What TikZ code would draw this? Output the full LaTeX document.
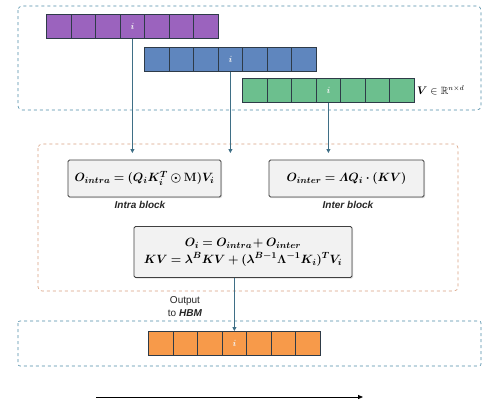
\documentclass[tikz,border=0pt]{standalone}
\usepackage{amsmath,amssymb,bm}
\usepackage[no-math]{fontspec}
\setmainfont{Liberation Sans}
\usetikzlibrary{arrows.meta,shadows}
\definecolor{cpurple}{HTML}{9B63BE}
\definecolor{cblue}{HTML}{5F86BE}
\definecolor{cgreen}{HTML}{6CBF8E}
\definecolor{corange}{HTML}{F79A4A}
\definecolor{cedge}{HTML}{2E3B48}
\definecolor{cteal}{HTML}{4E8CA8}
\definecolor{carrow}{HTML}{3F6F86}
\definecolor{cdashor}{HTML}{D9A080}
\definecolor{cboxfill}{HTML}{F2F2F2}
\definecolor{cboxedge}{HTML}{404040}
\begin{document}
\begin{tikzpicture}[x=1pt,y=-1pt,
  cell/.style={draw=cedge, line width=0.8pt, minimum width=24.57pt, minimum height=24pt, inner sep=0pt, anchor=north west, font=\fontsize{9}{10}\selectfont, text=white!90!gray},
  fbox/.style={draw=cboxedge, fill=cboxfill, line width=0.8pt, rounded corners=1.5pt, inner sep=0pt, drop shadow={opacity=0.25, shadow xshift=1.2pt, shadow yshift=-1.2pt}},
  arr/.style={draw=carrow, line width=0.9pt, -{Triangle[length=4pt,width=4pt]}},
  lbl/.style={font=\fontsize{10}{11}\selectfont\bfseries\itshape, text=black!85}]
\useasboundingbox (0,0) rectangle (496,408);
\fill[white] (0,0) rectangle (496,408);
% dashed frames
\draw[cteal, dashed, line width=0.6pt, rounded corners=4pt] (18,6) rectangle (481,110);
\draw[cdashor, dashed, line width=0.6pt, rounded corners=4pt] (38,144) rectangle (458,291);
\draw[cteal, dashed, line width=0.6pt, rounded corners=2pt] (18,321) rectangle (481,366);
% bars
\foreach \k in {0,...,6}{
  \node[cell, fill=cpurple] (p\k) at ({46+24.57*\k},14) {\ifnum\k=3 $\bm{i}$\fi};
  \node[cell, fill=cblue] (b\k) at ({144+24.57*\k},47) {\ifnum\k=3 $\bm{i}$\fi};
  \node[cell, fill=cgreen] (g\k) at ({242+24.57*\k},78) {\ifnum\k=3 $\bm{i}$\fi};
  \node[cell, fill=corange] (o\k) at ({148+24.57*\k},331) {\ifnum\k=3 $\bm{i}$\fi};
}
\node[anchor=west, inner sep=0pt, font=\fontsize{10.5}{12}\selectfont] (vlab) at (417,90) {$\bm{V} \in \mathbb{R}^{n\times d}$};
% formula boxes
\node[fbox, minimum width=153pt, minimum height=37pt, font=\fontsize{12.5}{14}\selectfont] (intra) at (144.5,178.5) {$\bm{O_{intra} = (Q_i K_i^T \odot \mathrm{M}) V_i}$};
\node[lbl] (intralbl) at (140,204.5) {Intra block};
\node[fbox, minimum width=155pt, minimum height=37pt, font=\fontsize{12.5}{14}\selectfont] (inter) at (346.5,178.5) {$\bm{O_{inter} = \varLambda Q_i \cdot (KV)}$};
\node[lbl] (interlbl) at (348,204.5) {Inter block};
\node[fbox, minimum width=218pt, minimum height=51pt, align=center, font=\fontsize{12.5}{16}\selectfont] (comb) at (243,252) {$\bm{O_i = O_{intra}\!+ O_{inter}}$\\[1pt] $\bm{KV = \lambda^B KV + (\lambda^{B-1}\Lambda^{-1}K_i)^T V_i}$};
% arrows
\coordinate (e1) at (p3.south |- 0,153);
\coordinate (e2) at (b3.south |- 0,153);
\coordinate (e3) at (g3.south |- 0,153);
\draw[arr] (p3.south) -- (e1);
\draw[arr] (b3.south) -- (e2);
\draw[arr] (g3.south) -- (e3);
\draw[arr] (comb.south -| o3.north) -- (o3.north);
\node[align=center, font=\fontsize{10}{13}\selectfont, text=black!85] (outlbl) at (185,306.5) {Output\\to \textbf{\textit{HBM}}};
% bottom arrow
\coordinate (ba) at (96,397);
\coordinate (bb) at (363,397);
\draw[black, line width=0.8pt, -{Triangle[length=5pt,width=4pt]}] (ba) -- (bb);
\end{tikzpicture}
\end{document}
